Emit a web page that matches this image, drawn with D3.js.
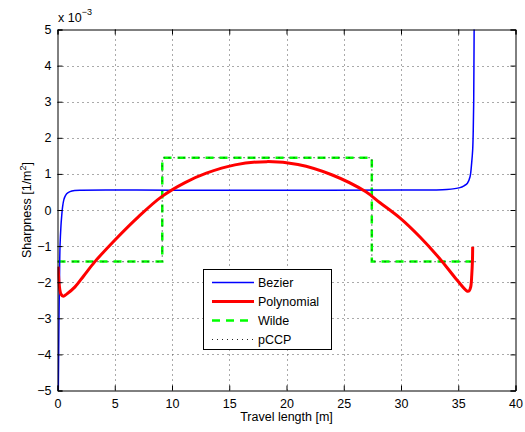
<!DOCTYPE html>
<html><head><meta charset="utf-8">
<script src="https://cdn.jsdelivr.net/npm/d3@7"></script>
<style>body{margin:0;background:#fff}svg{display:block;font-family:"Liberation Sans",Arial,sans-serif}</style>
</head><body><svg id="c" width="525" height="432"></svg>
<script>
// Data (sharpness in units of 1e-3 1/m^2)
const bezierX = [0.04,0.07,0.1,0.13,0.17,0.22,0.3,0.36,0.45,0.55,0.65,0.8,1.09,1.5,2.1,10,20,30,34,35.15,35.5,35.8,36.03,36.17,36.26,36.31,36.35,36.37,36.39];
const bezierY = [-5.5,-5,-4,-3,-2,-1,-0.45,-0.19,0.1,0.28,0.37,0.45,0.51,0.54,0.55,0.55,0.55,0.555,0.57,0.62,0.67,0.74,0.92,1.3,1.67,2.2,3,4,5.2];
const polyX = [0.05,0.12,0.2,0.3,0.51,0.8,1.53,2.3,3.27,5.02,7.06,9.1,11.14,13,15.5,18.3,21,24,26.9,28.17,29.9,31.66,33.55,34.87,35.8,35.95,36.09,36.18,36.24,36.26];
const polyY = [-1.57,-1.95,-2.2,-2.33,-2.39,-2.33,-2.13,-1.82,-1.43,-0.83,-0.19,0.37,0.76,1.02,1.25,1.34,1.26,0.97,0.51,0.2,-0.22,-0.75,-1.41,-1.93,-2.25,-2.24,-2.13,-1.8,-1.4,-1.02];
const wildeX = [0,9.15,9.15,27.45,27.45,36.6];
const wildeY = [-1.43,-1.43,1.45,1.45,-1.43,-1.43];
const pccpX = [0,9.15,9.15,27.45,27.45,36.6];
const pccpY = [-1.43,-1.43,1.45,1.45,-1.43,-1.43];
const xTicks = [0,5,10,15,20,25,30,35,40];
const yTicks = [-5,-4,-3,-2,-1,0,1,2,3,4,5];
const seriesNames = ["Bezier","Polynomial","Wilde","pCCP"];

const svg = d3.select("#c");
const x = d3.scaleLinear().domain([0,40]).range([57.5,515.5]);
const y = d3.scaleLinear().domain([-5,5]).range([390.5,29.5]);

// grid
const g = svg.append("g");
g.selectAll(".gx").data(xTicks.slice(1,-1)).join("line")
  .attr("x1",d=>Math.round(x(d))+0.5).attr("x2",d=>Math.round(x(d))+0.5)
  .attr("y1",y(-5)).attr("y2",y(5))
  .attr("stroke","#555").attr("stroke-width",1).attr("stroke-dasharray","1,4");
g.selectAll(".gy").data(yTicks.slice(1,-1)).join("line")
  .attr("y1",d=>Math.round(y(d))+0.5).attr("y2",d=>Math.round(y(d))+0.5)
  .attr("x1",x(0)).attr("x2",x(40))
  .attr("stroke","#555").attr("stroke-width",1).attr("stroke-dasharray","1,4");

// clip
svg.append("clipPath").attr("id","cp").append("rect")
  .attr("x",x(0)).attr("y",y(5)).attr("width",x(40)-x(0)).attr("height",y(-5)-y(5));
const plot = svg.append("g").attr("clip-path","url(#cp)");

const lineM = d3.line().x(d=>x(d[0])).y(d=>y(d[1])).curve(d3.curveCatmullRom.alpha(0.5));
const lineL = d3.line().x(d=>x(d[0])).y(d=>y(d[1]));

plot.append("path").datum(wildeX.map((v,i)=>[v,wildeY[i]])).attr("d",lineL)
  .attr("fill","none").attr("stroke","#00ff00").attr("stroke-width",2.5).attr("stroke-dasharray","8,6");
plot.append("path").datum(pccpX.map((v,i)=>[v,pccpY[i]])).attr("d",lineL)
  .attr("fill","none").attr("stroke","#222").attr("stroke-width",1.2).attr("stroke-dasharray","1,4");
plot.append("path").datum(bezierX.map((v,i)=>[v,bezierY[i]])).attr("d",lineM)
  .attr("fill","none").attr("stroke","#0000ff").attr("stroke-width",1.5);
plot.append("path").datum(polyX.map((v,i)=>[v,polyY[i]])).attr("d",lineM)
  .attr("fill","none").attr("stroke","#ff0000").attr("stroke-width",3);

// axes (box with inward ticks)
const axB = d3.axisBottom(x).tickValues(xTicks).tickSize(-5).tickPadding(9).tickFormat(d3.format("d"));
const axT = d3.axisTop(x).tickValues(xTicks).tickSize(-5).tickFormat("");
const axL = d3.axisLeft(y).tickValues(yTicks).tickSize(-5).tickPadding(6).tickFormat(d=>d<0?"\u2212"+(-d):d);
const axR = d3.axisRight(y).tickValues(yTicks).tickSize(-5).tickFormat("");
function styleAx(s){s.selectAll("path,line").attr("stroke","#000");s.selectAll("text").attr("fill","#000").attr("font-size",12.5).attr("font-family",'"Liberation Sans",Arial,sans-serif');}
svg.append("g").attr("transform",`translate(0,${y(-5)})`).call(axB).call(styleAx);
svg.append("g").attr("transform",`translate(0,${y(5)})`).call(axT).call(styleAx);
svg.append("g").attr("transform",`translate(${x(0)},0)`).call(axL).call(styleAx);
svg.append("g").attr("transform",`translate(${x(40)},0)`).call(axR).call(styleAx);
svg.selectAll(".domain").attr("stroke-width",1);

// labels
svg.append("text").attr("x",(x(0)+x(40))/2).attr("y",421).attr("text-anchor","middle")
  .attr("font-size",12.5).text("Travel length [m]");
const yl = svg.append("text").attr("transform",`translate(31,${(y(5)+y(-5))/2}) rotate(-90)`)
  .attr("text-anchor","middle").attr("font-size",12.5);
yl.append("tspan").text("Sharpness [1/m");
yl.append("tspan").attr("font-size",9).attr("dy",-5).text("2");
yl.append("tspan").attr("dy",5).text("]");
const ex = svg.append("text").attr("x",58).attr("y",22).attr("font-size",12.5);
ex.append("tspan").text("x 10");
ex.append("tspan").attr("font-size",9).attr("dy",-7).text("\u22123");

// legend
const lg = svg.append("g");
lg.append("rect").attr("x",203.5).attr("y",269.5).attr("width",128).attr("height",80)
  .attr("fill","#fff").attr("stroke","#000").attr("stroke-width",1);
const styles = [
  {c:"#0000ff",w:1.5,da:null},
  {c:"#ff0000",w:3,da:null},
  {c:"#00ff00",w:2.5,da:"8,6"},
  {c:"#222",w:1.2,da:"1,4"}
];
seriesNames.forEach((n,i)=>{
  const yy = 282.5 + i*19;
  lg.append("line").attr("x1",212).attr("x2",254).attr("y1",yy).attr("y2",yy)
    .attr("stroke",styles[i].c).attr("stroke-width",styles[i].w).attr("stroke-dasharray",styles[i].da);
  lg.append("text").attr("x",258).attr("y",yy+4.5).attr("font-size",12.5).text(n);
});
</script></body></html>
